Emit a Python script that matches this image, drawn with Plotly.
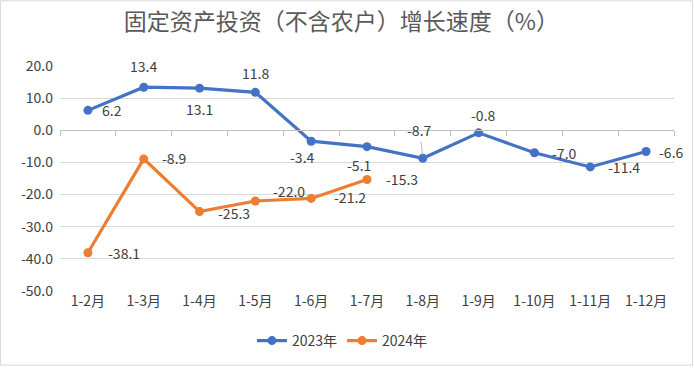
import plotly.graph_objects as go

categories = ["1-2月", "1-3月", "1-4月", "1-5月", "1-6月", "1-7月", "1-8月", "1-9月", "1-10月", "1-11月", "1-12月"]
values_2023 = [6.2, 13.4, 13.1, 11.8, -3.4, -5.1, -8.7, -0.8, -7.0, -11.4, -6.6]
values_2024 = [-38.1, -8.9, -25.3, -22.0, -21.2, -15.3]
y_ticks = [20, 10, 0, -10, -20, -30, -40, -50]

# label offsets (px) per point: (xshift, yshift)
off_2023 = [(24, 0), (0, 21), (0, -21), (0, 19), (-9, -16), (-8, -18), (0, 0), (5, 18), (30, 0), (34, 0), (25, 0)]
off_2024 = [(36, 0), (31, 1), (34, -1), (34, 10), (39, 1), (35, 0)]

BLUE = "#4472C4"
ORANGE = "#ED7D31"
FONT = "Noto Sans CJK SC, sans-serif"
TXT = "#404040"
FS = 14

W, H = 694, 368
ML, MR, MT, MB = 60, 20, 66, 76
PW, PH = W - ML - MR, H - MT - MB

fig = go.Figure()
fig.add_trace(go.Scatter(x=list(range(len(values_2023))), y=values_2023, mode="lines+markers",
                         name="2023年", line=dict(color=BLUE, width=3.2),
                         marker=dict(size=9, color=BLUE)))
fig.add_trace(go.Scatter(x=list(range(len(values_2024))), y=values_2024, mode="lines+markers",
                         name="2024年", line=dict(color=ORANGE, width=3.2),
                         marker=dict(size=9, color=ORANGE)))

ann = []
for i, v in enumerate(values_2023):
    dx, dy = off_2023[i]
    if categories[i] == "1-8月":
        ann.append(dict(x=i, y=v, text=f"{v:.1f}", showarrow=True, arrowhead=0, arrowwidth=0.8,
                        arrowcolor="#a6a6a6", ax=-3, ay=-28, standoff=3,
                        font=dict(size=FS, color=TXT, family=FONT)))
    else:
        ann.append(dict(x=i, y=v, text=f"{v:.1f}", showarrow=False, xshift=dx, yshift=dy,
                        font=dict(size=FS, color=TXT, family=FONT)))
for i, v in enumerate(values_2024):
    dx, dy = off_2024[i]
    ann.append(dict(x=i, y=v, text=f"{v:.1f}", showarrow=False, xshift=dx, yshift=dy,
                    font=dict(size=FS, color=TXT, family=FONT)))

fig.update_layout(
    width=W, height=H,
    margin=dict(l=ML, r=MR, t=MT, b=MB),
    paper_bgcolor="white", plot_bgcolor="white",
    title=dict(text="固定资产投资（不含农户）增长速度（%）", x=0.492, xanchor="center", y=0.94, yanchor="middle",
               font=dict(size=23, color="#595959", family="Noto Sans CJK SC, sans-serif")),
    font=dict(family=FONT, color=TXT, size=FS),
    xaxis=dict(tickmode="array", tickvals=list(range(len(categories))), ticktext=categories,
               range=[-0.5, len(categories) - 0.5], showgrid=False, zeroline=False, showline=False,
               ticks="", tickfont=dict(size=FS, color=TXT)),
    xaxis2=dict(overlaying="x", anchor="free", position=(0 - (-50)) / 70, range=[-0.5, len(categories) - 0.5],
                tickmode="array", tickvals=[i - 0.5 for i in range(len(categories) + 1)],
                showticklabels=False, ticks="outside", ticklen=5, tickcolor="#bfbfbf",
                showline=True, linecolor="#bfbfbf", linewidth=1, showgrid=False, zeroline=False),
    yaxis=dict(range=[-50, 20], tickmode="array", tickvals=y_ticks, ticktext=[f"{t:.1f}" for t in y_ticks],
               showgrid=True, gridcolor="#d9d9d9", gridwidth=1, zeroline=False, showline=False,
               tickfont=dict(size=FS, color=TXT), ticklabelstandoff=6),
    legend=dict(orientation="h", x=0.46, xanchor="center", y=-(341 - (MT + PH)) / PH, yanchor="middle",
                font=dict(size=FS, color=TXT), itemwidth=30, tracegroupgap=0),
    annotations=ann,
    shapes=[dict(type="rect", xref="paper", yref="paper",
                 x0=(0.5 - ML) / PW, x1=(W - 1.5 - ML) / PW,
                 y0=(MT + PH - (H - 1.5)) / PH, y1=(MT + PH - 0.5) / PH,
                 line=dict(color="#d9d9d9", width=1))],
    showlegend=True,
)
# invisible trace to activate the axis drawn at zero
fig.add_trace(go.Scatter(x=[0], y=[0], xaxis="x2", mode="markers", marker=dict(opacity=0),
                         showlegend=False, hoverinfo="skip"))

fig.write_html("out.html", config={"displayModeBar": False},
               post_script="document.body.style.margin='0';document.body.style.overflow='hidden';")
